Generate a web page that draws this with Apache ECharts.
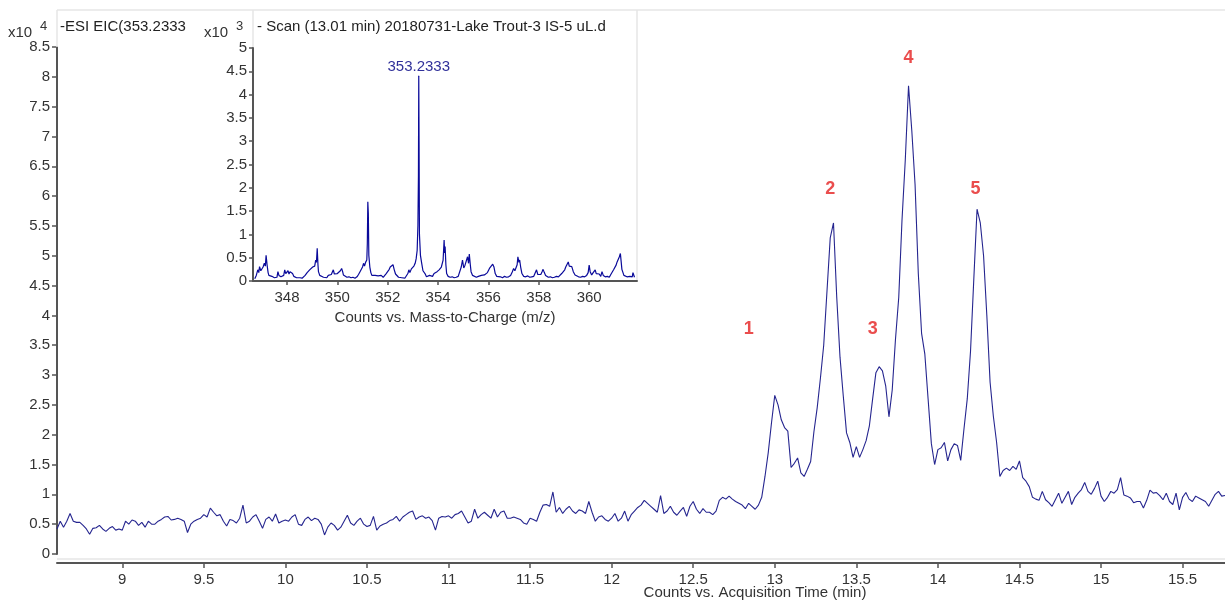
<!DOCTYPE html>
<html><head><meta charset="utf-8">
<script src="https://cdn.jsdelivr.net/npm/echarts@6/dist/echarts.min.js"></script>
<style>html,body{margin:0;padding:0;background:#fff}#c{width:1225px;height:600px}</style>
</head><body><div id="c"></div>
<script>
// ---- main chromatogram (EIC), x10^4 counts, sampled every 0.02 min from 8.60 ----
const eicStart = 8.6;
const eicStep = 0.02;
const eicValues = [
0.42,0.55,0.45,0.55,0.68,0.55,0.53,0.53,0.48,0.42,
0.33,0.43,0.44,0.48,0.42,0.38,0.43,0.46,0.40,0.42,
0.40,0.55,0.50,0.57,0.55,0.48,0.53,0.45,0.55,0.50,
0.50,0.55,0.58,0.62,0.63,0.57,0.58,0.60,0.58,0.55,
0.36,0.50,0.55,0.58,0.60,0.66,0.62,0.77,0.70,0.64,
0.66,0.55,0.47,0.58,0.56,0.52,0.60,0.82,0.52,0.55,
0.62,0.66,0.55,0.43,0.58,0.62,0.55,0.67,0.52,0.55,
0.57,0.55,0.62,0.66,0.50,0.48,0.58,0.62,0.56,0.60,
0.58,0.50,0.32,0.45,0.52,0.48,0.40,0.45,0.55,0.65,
0.52,0.48,0.55,0.60,0.50,0.46,0.48,0.63,0.40,0.47,
0.50,0.52,0.56,0.58,0.63,0.55,0.62,0.66,0.70,0.72,
0.58,0.62,0.64,0.60,0.62,0.56,0.40,0.60,0.63,0.62,
0.64,0.60,0.66,0.68,0.72,0.62,0.52,0.55,0.75,0.60,
0.66,0.70,0.65,0.60,0.75,0.62,0.70,0.72,0.60,0.60,
0.62,0.60,0.58,0.52,0.50,0.60,0.58,0.55,0.70,0.82,
0.83,0.80,1.04,0.70,0.78,0.68,0.75,0.80,0.72,0.68,
0.74,0.72,0.68,0.88,0.70,0.55,0.62,0.64,0.58,0.55,
0.60,0.68,0.55,0.60,0.72,0.55,0.66,0.72,0.78,0.82,
0.90,0.85,0.80,0.75,0.70,0.98,0.68,0.72,0.80,0.70,
0.65,0.72,0.78,0.63,0.80,0.88,0.75,0.68,0.76,0.70,
0.70,0.66,0.72,0.90,0.95,0.92,0.97,0.92,0.88,0.85,
0.82,0.76,0.85,0.80,0.75,0.82,0.95,1.30,1.70,2.20,
2.66,2.50,2.25,2.12,2.06,1.45,1.52,1.61,1.36,1.30,
1.42,1.55,2.05,2.45,2.95,3.50,4.40,5.30,5.55,4.30,
3.30,2.65,2.03,1.87,1.62,1.80,1.62,1.75,1.90,2.15,
2.60,3.04,3.14,3.07,2.82,2.30,2.75,3.60,4.30,5.60,
6.60,7.85,7.10,6.20,4.70,3.70,3.35,2.60,1.85,1.50,
1.75,1.78,1.87,1.56,1.75,1.85,1.82,1.57,2.10,2.60,
3.40,4.60,5.78,5.55,5.00,4.00,2.88,2.31,1.87,1.30,
1.40,1.44,1.40,1.47,1.42,1.56,1.28,1.22,1.13,0.95,
0.92,0.90,1.05,0.91,0.86,0.80,0.91,1.02,0.85,0.95,
1.05,0.83,0.95,1.02,1.08,1.20,1.05,1.00,1.10,1.22,
0.97,0.88,0.95,1.05,1.02,1.08,1.28,0.99,0.97,0.94,
0.86,0.88,0.88,0.77,0.90,1.07,1.02,1.03,0.98,0.91,
1.02,0.88,0.83,1.02,0.74,0.95,1.03,0.92,0.88,0.97,
0.94,0.91,0.88,0.80,0.90,1.00,1.05,0.97,0.98
];
const eicXTicks = [9, 9.5, 10, 10.5, 11, 11.5, 12, 12.5, 13, 13.5, 14, 14.5, 15, 15.5];
const eicTitle = '-ESI EIC(353.2333';
const eicXName = 'Counts vs. Acquisition Time (min)';

// peak number annotations
const peakNames = ['1', '2', '3', '4', '5'];
const peakLabelTime = [12.84, 13.34, 13.60, 13.82, 14.23];
const peakLabelLevel = [3.78, 6.12, 3.78, 8.31, 6.12];

// ---- inset mass spectrum, x10^3 counts ----
const msTitle = '- Scan (13.01 min) 20180731-Lake Trout-3 IS-5 uL.d';
const msXName = 'Counts vs. Mass-to-Charge (m/z)';
const msXTicks = [348, 350, 352, 354, 356, 358, 360];
const msPeakMz = 353.233;
const msPeakCount = 4.40;
const msPeakLabel = '353.2333';
const msMz = [
346.72,346.78,346.84,346.88,346.91,346.96,347.01,347.05,347.10,347.14,347.17,347.21,347.25,347.28,347.34,347.40,347.44,347.50,347.56,347.60,
347.64,347.68,347.71,347.76,347.82,347.87,347.91,347.95,348.00,348.04,348.08,348.12,348.17,348.22,348.27,348.31,348.38,348.45,348.52,348.60,
348.66,348.72,348.80,348.86,348.90,348.96,349.02,349.06,349.10,349.14,349.17,349.20,349.23,349.25,349.30,349.37,349.45,349.52,349.58,349.64,
349.70,349.76,349.80,349.84,349.88,349.94,350.00,350.06,350.12,350.17,350.21,350.24,350.30,350.38,350.46,350.54,350.62,350.70,350.78,350.84,
350.90,350.96,351.00,351.04,351.08,351.12,351.17,351.19,351.21,351.23,351.25,351.29,351.33,351.37,351.44,351.50,351.56,351.62,351.68,351.74,
351.77,351.82,351.88,351.94,352.00,352.06,352.10,352.15,352.21,352.26,352.31,352.37,352.43,352.50,352.56,352.62,352.68,352.74,352.80,352.84,
352.88,352.94,353.00,353.04,353.09,353.13,353.17,353.20,353.22,353.233,353.245,353.26,353.30,353.35,353.40,353.48,353.54,353.60,353.66,353.72,
353.78,353.84,353.90,353.96,354.04,354.09,354.13,354.17,354.20,354.24,354.26,354.28,354.31,354.34,354.40,354.48,354.56,354.64,354.72,354.80,
354.86,354.92,354.97,355.02,355.07,355.12,355.17,355.21,355.24,355.28,355.31,355.37,355.44,355.52,355.60,355.66,355.72,355.78,355.84,355.90,
355.96,356.04,356.10,356.17,356.22,356.27,356.33,356.40,356.48,356.56,356.64,356.72,356.80,356.88,356.95,357.00,357.05,357.10,357.14,357.17,
357.21,357.24,357.28,357.33,357.40,357.48,357.56,357.64,357.72,357.80,357.86,357.91,357.96,358.02,358.08,358.13,358.17,358.22,358.27,358.31,
358.38,358.46,358.54,358.62,358.70,358.78,358.84,358.91,358.97,359.03,359.07,359.11,359.14,359.17,359.21,359.26,359.31,359.37,359.44,359.50,
359.58,359.66,359.74,359.82,359.90,359.96,360.00,360.04,360.10,360.16,360.20,360.24,360.28,360.34,360.40,360.46,360.51,360.56,360.64,360.72,
360.80,360.86,360.92,360.97,361.02,361.07,361.11,361.16,361.20,361.24,361.27,361.30,361.33,361.38,361.44,361.50,361.56,361.62,361.67,361.71,
361.74,361.77,361.80
];
const msCounts = [
0.05,0.12,0.24,0.18,0.31,0.22,0.24,0.30,0.38,0.32,0.55,0.34,0.18,0.12,0.08,0.10,0.08,0.07,0.09,0.08,
0.20,0.12,0.08,0.09,0.07,0.12,0.24,0.16,0.20,0.22,0.15,0.20,0.24,0.16,0.10,0.08,0.07,0.06,0.07,0.06,
0.08,0.12,0.18,0.22,0.24,0.26,0.30,0.34,0.32,0.45,0.40,0.70,0.35,0.20,0.12,0.09,0.08,0.09,0.07,0.12,
0.10,0.14,0.18,0.24,0.15,0.18,0.16,0.20,0.22,0.27,0.20,0.13,0.09,0.08,0.09,0.07,0.08,0.06,0.09,0.14,
0.20,0.16,0.30,0.38,0.32,0.40,0.45,0.80,1.70,1.45,0.55,0.30,0.18,0.12,0.08,0.12,0.09,0.11,0.08,0.12,
0.13,0.08,0.10,0.16,0.20,0.25,0.30,0.28,0.35,0.24,0.15,0.12,0.08,0.10,0.07,0.09,0.06,0.10,0.16,0.24,
0.18,0.26,0.28,0.32,0.38,0.48,0.66,1.20,2.25,4.40,3.00,1.00,0.55,0.38,0.22,0.16,0.09,0.08,0.12,0.08,
0.10,0.16,0.14,0.20,0.24,0.26,0.30,0.34,0.45,0.88,0.60,0.74,0.35,0.16,0.10,0.08,0.09,0.07,0.08,0.10,
0.14,0.30,0.45,0.28,0.34,0.36,0.52,0.38,0.58,0.35,0.20,0.12,0.09,0.08,0.10,0.08,0.12,0.10,0.13,0.15,
0.18,0.27,0.30,0.36,0.30,0.16,0.10,0.08,0.09,0.07,0.10,0.08,0.09,0.12,0.20,0.27,0.22,0.26,0.35,0.52,
0.40,0.45,0.30,0.16,0.10,0.09,0.11,0.08,0.09,0.10,0.14,0.24,0.14,0.12,0.14,0.20,0.25,0.18,0.12,0.09,
0.08,0.09,0.07,0.08,0.10,0.09,0.12,0.16,0.20,0.24,0.30,0.34,0.32,0.41,0.32,0.30,0.31,0.20,0.13,0.10,
0.09,0.08,0.10,0.09,0.12,0.18,0.34,0.20,0.13,0.18,0.15,0.24,0.16,0.12,0.15,0.10,0.20,0.12,0.09,0.10,
0.08,0.14,0.18,0.24,0.22,0.34,0.41,0.38,0.52,0.59,0.42,0.25,0.20,0.12,0.14,0.09,0.13,0.10,0.08,0.09,
0.18,0.20,0.08
];

const FONT = "'Liberation Sans', Arial, sans-serif";
const TXT = '#333';
const AX = '#555';
const FRAME = '#e6e6e6';

const eicData = eicValues.map((v, i) => [+(eicStart + i * eicStep).toFixed(2), v]);
const msData = msMz.map((m, i) => [m, msCounts[i]]);
const peakData = peakNames.map((n, i) => ({ name: n, value: [peakLabelTime[i], peakLabelLevel[i]] }));

const chart = echarts.init(document.getElementById('c'), null, { renderer: 'canvas' });
chart.setOption({
  animation: false,
  backgroundColor: '#fff',
  textStyle: { fontFamily: FONT },
  grid: [
    { left: 57, right: 0, top: 47, bottom: 46 },
    { left: 253, width: 384, top: 48, height: 233 }
  ],
  xAxis: [
    {
      gridIndex: 0, type: 'value', min: 8.6, max: 15.76, offset: 9,
      axisLine: { onZero: false, lineStyle: { color: AX, width: 2 } },
      axisTick: { show: true, length: 5, lineStyle: { color: AX, width: 1.5 }, customValues: eicXTicks },
      axisLabel: { color: TXT, fontSize: 15, fontFamily: FONT, margin: 9, customValues: eicXTicks },
      splitLine: { show: false }
    },
    {
      gridIndex: 1, type: 'value', min: 346.65, max: 361.9, z: 10,
      axisLine: { onZero: false, lineStyle: { color: AX, width: 2 } },
      axisTick: { show: true, length: 4, lineStyle: { color: AX, width: 1.5 }, customValues: msXTicks },
      axisLabel: { color: TXT, fontSize: 15, fontFamily: FONT, margin: 9, customValues: msXTicks },
      splitLine: { show: false },
      name: msXName, nameLocation: 'middle', nameGap: 29,
      nameTextStyle: { color: TXT, fontSize: 15, fontFamily: FONT }
    }
  ],
  yAxis: [
    {
      gridIndex: 0, type: 'value', min: 0, max: 8.5, interval: 0.5,
      axisLine: { show: true, lineStyle: { color: AX, width: 2 } },
      axisTick: { show: true, length: 5, lineStyle: { color: AX, width: 1.5 } },
      axisLabel: { color: TXT, fontSize: 15, fontFamily: FONT, margin: 7 },
      splitLine: { show: false }
    },
    {
      gridIndex: 1, type: 'value', min: 0, max: 5, interval: 0.5, z: 10,
      axisLine: { show: true, onZero: false, lineStyle: { color: AX, width: 2 } },
      axisTick: { show: true, length: 4, lineStyle: { color: AX, width: 1.5 } },
      axisLabel: { color: TXT, fontSize: 15, fontFamily: FONT, margin: 6 },
      splitLine: { show: false }
    }
  ],
  series: [
    {
      type: 'line', xAxisIndex: 0, yAxisIndex: 0, data: eicData,
      showSymbol: false, symbol: 'none',
      lineStyle: { color: '#25258f', width: 1.1 }, z: 2
    },
    {
      type: 'scatter', xAxisIndex: 0, yAxisIndex: 0, data: peakData,
      symbolSize: 0, silent: true,
      label: { show: true, position: 'inside', formatter: '{b}', color: '#e52020', fontSize: 18, fontWeight: 'bold', fontFamily: FONT }
    },
    {
      type: 'line', xAxisIndex: 1, yAxisIndex: 1, data: msData,
      showSymbol: false, symbol: 'none',
      lineStyle: { color: '#0a0a9a', width: 1.2 }, z: 12
    },
    {
      type: 'scatter', xAxisIndex: 1, yAxisIndex: 1, z: 13, silent: true,
      data: [{ name: msPeakLabel, value: [msPeakMz, msPeakCount] }],
      symbolSize: 1, itemStyle: { color: '#0a0a9a', opacity: 1 },
      label: { show: true, position: 'top', distance: 1, formatter: '{b}', color: '#30309a', fontSize: 15, fontFamily: FONT }
    }
  ],
  graphic: [
    // inset white panel (kept under the inset axes)
    { type: 'rect', z: 1, shape: { x: 196, y: 10, width: 441, height: 320 }, style: { fill: '#fff', stroke: null } },
    // faint frames
    { type: 'line', z: 2, shape: { x1: 57, y1: 10, x2: 1225, y2: 10 }, style: { stroke: FRAME, lineWidth: 1.5 } },
    { type: 'line', z: 2, shape: { x1: 57, y1: 10, x2: 57, y2: 47 }, style: { stroke: FRAME, lineWidth: 1.5 } },
    { type: 'line', z: 2, shape: { x1: 57, y1: 559, x2: 1225, y2: 559 }, style: { stroke: FRAME, lineWidth: 1.5 } },
    { type: 'line', z: 2, shape: { x1: 253, y1: 10, x2: 253, y2: 48 }, style: { stroke: FRAME, lineWidth: 1.5 } },
    { type: 'line', z: 2, shape: { x1: 637, y1: 10, x2: 637, y2: 281 }, style: { stroke: FRAME, lineWidth: 1.5 } },
    // main titles / unit labels
    { type: 'text', z: 20, x: 8, y: 25, style: { text: 'x10', fontSize: 15, fontFamily: FONT, fill: TXT } },
    { type: 'text', z: 20, x: 40, y: 20, style: { text: '4', fontSize: 13, fontFamily: FONT, fill: TXT } },
    { type: 'text', z: 20, x: 60, y: 19, style: { text: eicTitle, fontSize: 15, fontFamily: FONT, fill: '#222' } },
    { type: 'text', z: 20, x: 204, y: 25, style: { text: 'x10', fontSize: 15, fontFamily: FONT, fill: TXT } },
    { type: 'text', z: 20, x: 236, y: 20, style: { text: '3', fontSize: 13, fontFamily: FONT, fill: TXT } },
    { type: 'text', z: 20, x: 257, y: 19, style: { text: msTitle, fontSize: 15, fontFamily: FONT, fill: '#222' } },
    { type: 'text', z: 20, x: 755, y: 585, style: { text: eicXName, fontSize: 15, fontFamily: FONT, fill: TXT, align: 'center' } }
  ]
});
</script>
</body></html>
